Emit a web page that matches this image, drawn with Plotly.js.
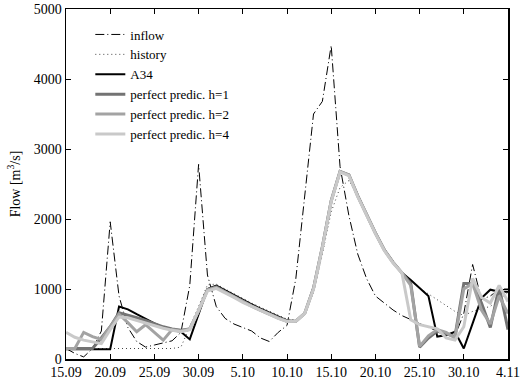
<!DOCTYPE html>
<html>
<head>
<meta charset="utf-8">
<script src="https://cdn.plot.ly/plotly-3.0.1.min.js"></script>
<style>html,body{margin:0;padding:0;background:#fff;}#chart{width:524px;height:383px;}</style>
</head>
<body>
<div id="chart"></div>
<script>
// Day offsets from 15.09 (0) to 4.11 (50)
const startDate = '2011-09-15';
const tickLabels = ['15.09','20.09','25.09','30.09','5.10','10.10','15.10','20.10','25.10','30.10','4.11'];

const inflow = [150,80,30,150,400,1960,900,450,250,170,200,230,260,380,1050,2780,1200,750,580,500,450,400,300,250,380,480,1150,2300,3500,3680,4480,2750,2050,1500,1150,900,800,700,620,560,500,450,400,370,330,650,1350,850,900,1000,1000];
const history = [150,150,150,150,150,150,150,150,150,150,150,150,150,170,450,750,1060,1070,1000,930,860,800,740,680,620,570,560,640,950,1500,2100,2450,2550,2330,2070,1820,1580,1400,1250,1120,1010,930,850,760,680,620,680,720,750,850,950];
const a34 = [140,140,140,140,140,140,750,710,640,570,510,450,410,390,280,640,1000,1050,980,910,840,780,720,660,600,550,540,650,1020,1600,2260,2680,2620,2330,2060,1800,1560,1380,1230,1130,1010,900,320,340,390,150,510,870,990,960,960];
const h1 = [150,150,150,150,300,460,660,630,590,550,500,460,430,410,430,680,990,1030,960,890,820,760,700,640,590,540,540,650,1010,1600,2260,2680,2630,2330,2060,1800,1560,1380,1230,1080,170,300,400,360,320,1080,1080,800,450,1030,420];
const h2 = [150,150,380,320,280,460,640,520,390,490,380,270,420,400,430,690,990,1020,955,885,815,755,695,635,585,540,540,650,1010,1600,2260,2680,2630,2330,2060,1800,1560,1380,1230,1050,180,330,420,380,300,1000,1080,700,500,900,650];
const h4 = [380,310,270,250,220,420,600,590,550,510,470,440,410,390,420,700,970,1010,950,880,810,750,690,630,580,535,540,650,1000,1590,2250,2670,2620,2320,2050,1790,1550,1370,1230,560,490,460,430,300,270,460,1150,880,800,1050,820];

function dates(n){
  const out=[]; const d0=new Date(startDate+'T00:00:00Z');
  for(let i=0;i<n;i++){ const d=new Date(d0.getTime()+i*86400000); out.push(d.toISOString().slice(0,10)); }
  return out;
}
const x = dates(inflow.length);
const tickVals = [];
for(let i=0;i<tickLabels.length;i++){ tickVals.push(x[i*5]); }

const traces = [
  {name:'inflow', y:inflow, line:{color:'#000', width:1, dash:'9px,3px,1px,3px'}},
  {name:'history', y:history, line:{color:'#444', width:1, dash:'1px,3px'}},
  {name:'A34', y:a34, line:{color:'#000', width:2}},
  {name:'perfect predic. h=1', y:h1, line:{color:'#737373', width:3}},
  {name:'perfect predic. h=2', y:h2, line:{color:'#a3a3a3', width:3}},
  {name:'perfect predic. h=4', y:h4, line:{color:'#c9c9c9', width:3}}
].map(t => Object.assign({x:x, type:'scatter', mode:'lines'}, t));

const font = {family:'Liberation Serif, Times New Roman, serif', size:14, color:'#000'};
const legFont = {family:'Liberation Serif, Times New Roman, serif', size:13, color:'#000'};
const layout = {
  width:524, height:383,
  margin:{l:66, r:16, t:9, b:24},
  paper_bgcolor:'#fff', plot_bgcolor:'#fff',
  font:font,
  showlegend:true,
  legend:{x:0.055, y:0.97, xanchor:'left', yanchor:'top', bgcolor:'rgba(255,255,255,0)', borderwidth:0, font:legFont, tracegroupgap:0},
  xaxis:{
    type:'date',
    range:[x[0], x[x.length-1]],
    tickmode:'array', tickvals:tickVals, ticktext:tickLabels,
    ticks:'inside', ticklen:5, tickcolor:'#000', tickwidth:1,
    showline:true, linecolor:'#000', linewidth:1.5, mirror:'ticks',
    showgrid:false, zeroline:false,
    tickfont:font
  },
  yaxis:{
    range:[0,5000],
    tickvals:[0,1000,2000,3000,4000,5000],
    ticks:'inside', ticklen:5, tickcolor:'#000', tickwidth:1,
    showline:true, linecolor:'#000', linewidth:1.5, mirror:'ticks',
    showgrid:false, zeroline:false,
    tickfont:font,
    title:{text:'Flow [m<sup>3</sup>/s]', font:font, standoff:10}
  }
};
Plotly.newPlot('chart', traces, layout, {displayModeBar:false, staticPlot:true});
</script>
</body>
</html>
